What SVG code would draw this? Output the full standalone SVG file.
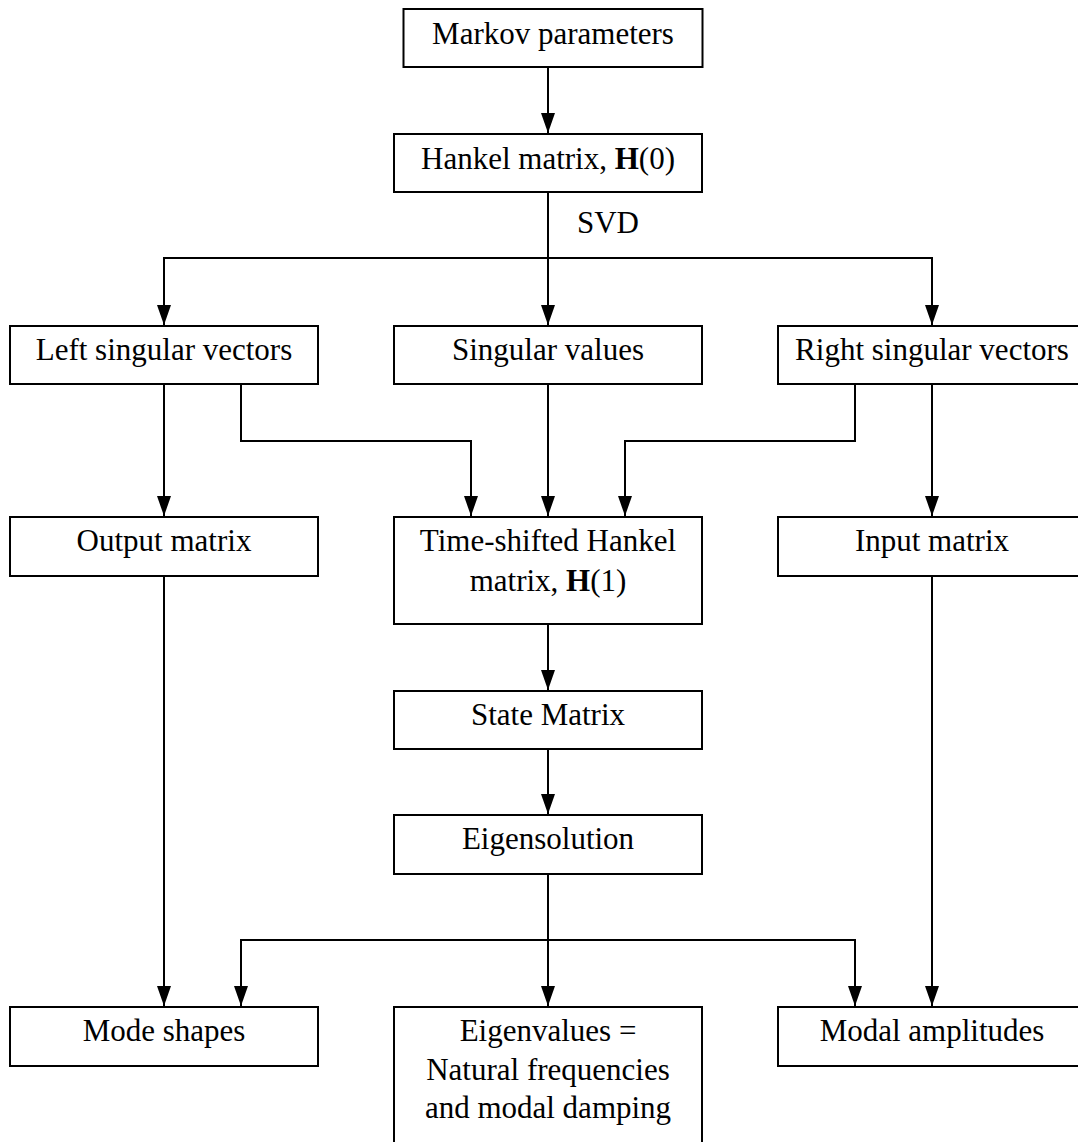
<svg xmlns="http://www.w3.org/2000/svg" width="1078" height="1142" viewBox="0 0 1078 1142">
<style>
.box{fill:#fff;stroke:#000;stroke-width:2}
.lbl{font-family:"Liberation Serif","Times New Roman",serif;font-size:31px;fill:#000;text-anchor:middle}
.conn{fill:none;stroke:#000;stroke-width:2}
</style>
<defs>
<marker id="arr" markerUnits="userSpaceOnUse" markerWidth="20" markerHeight="14" refX="20" refY="7" orient="auto">
<path d="M0,0 L20,7 L0,14 z" fill="#000"/>
</marker>
</defs>
<rect width="1078" height="1142" fill="#fff"/>
<g id="connectors">
<path class="conn" d="M548,67 V133" marker-end="url(#arr)"/>
<path class="conn" d="M548,192 V325" marker-end="url(#arr)"/>
<path class="conn" d="M548,258 H164 V325" marker-end="url(#arr)"/>
<path class="conn" d="M548,258 H932 V325" marker-end="url(#arr)"/>
<path class="conn" d="M164,384 V516" marker-end="url(#arr)"/>
<path class="conn" d="M241,384 V441 H471 V516" marker-end="url(#arr)"/>
<path class="conn" d="M548,384 V516" marker-end="url(#arr)"/>
<path class="conn" d="M855,384 V441 H625 V516" marker-end="url(#arr)"/>
<path class="conn" d="M932,384 V516" marker-end="url(#arr)"/>
<path class="conn" d="M548,624 V690" marker-end="url(#arr)"/>
<path class="conn" d="M548,749 V814" marker-end="url(#arr)"/>
<path class="conn" d="M548,874 V1006" marker-end="url(#arr)"/>
<path class="conn" d="M548,940 H241 V1006" marker-end="url(#arr)"/>
<path class="conn" d="M548,940 H855 V1006" marker-end="url(#arr)"/>
<path class="conn" d="M164,577 V1006" marker-end="url(#arr)"/>
<path class="conn" d="M932,577 V1006" marker-end="url(#arr)"/>
</g>
<g id="svd-label"><text class="lbl" x="608" y="233">SVD</text></g>
<g id="markov"><rect class="box" x="403.5" y="9" width="299" height="58"/><text class="lbl" x="553" y="44">Markov parameters</text></g>
<g id="hankel"><rect class="box" x="394" y="134" width="308" height="58"/><text class="lbl" x="548" y="169">Hankel matrix, <tspan font-weight="bold">H</tspan>(0)</text></g>
<g id="left-sv"><rect class="box" x="10" y="326" width="308" height="58"/><text class="lbl" x="164" y="360">Left singular vectors</text></g>
<g id="sing-val"><rect class="box" x="394" y="326" width="308" height="58"/><text class="lbl" x="548" y="360">Singular values</text></g>
<g id="right-sv"><rect class="box" x="778" y="326" width="308" height="58"/><text class="lbl" x="932" y="360">Right singular vectors</text></g>
<g id="output"><rect class="box" x="10" y="517" width="308" height="59"/><text class="lbl" x="164" y="551">Output matrix</text></g>
<g id="timeshift"><rect class="box" x="394" y="517" width="308" height="107"/><text class="lbl" x="548" y="551">Time-shifted Hankel</text><text class="lbl" x="548" y="591">matrix, <tspan font-weight="bold">H</tspan>(1)</text></g>
<g id="input"><rect class="box" x="778" y="517" width="308" height="59"/><text class="lbl" x="932" y="551">Input matrix</text></g>
<g id="state"><rect class="box" x="394" y="691" width="308" height="58"/><text class="lbl" x="548" y="725">State Matrix</text></g>
<g id="eigensol"><rect class="box" x="394" y="815" width="308" height="59"/><text class="lbl" x="548" y="849">Eigensolution</text></g>
<g id="modeshapes"><rect class="box" x="10" y="1007" width="308" height="59"/><text class="lbl" x="164" y="1041">Mode shapes</text></g>
<g id="eigenvalues"><rect class="box" x="394" y="1007" width="308" height="150"/><text class="lbl" x="548" y="1041">Eigenvalues =</text><text class="lbl" x="548" y="1080">Natural frequencies</text><text class="lbl" x="548" y="1118">and modal damping</text></g>
<g id="modalamp"><rect class="box" x="778" y="1007" width="308" height="59"/><text class="lbl" x="932" y="1041">Modal amplitudes</text></g>
</svg>
